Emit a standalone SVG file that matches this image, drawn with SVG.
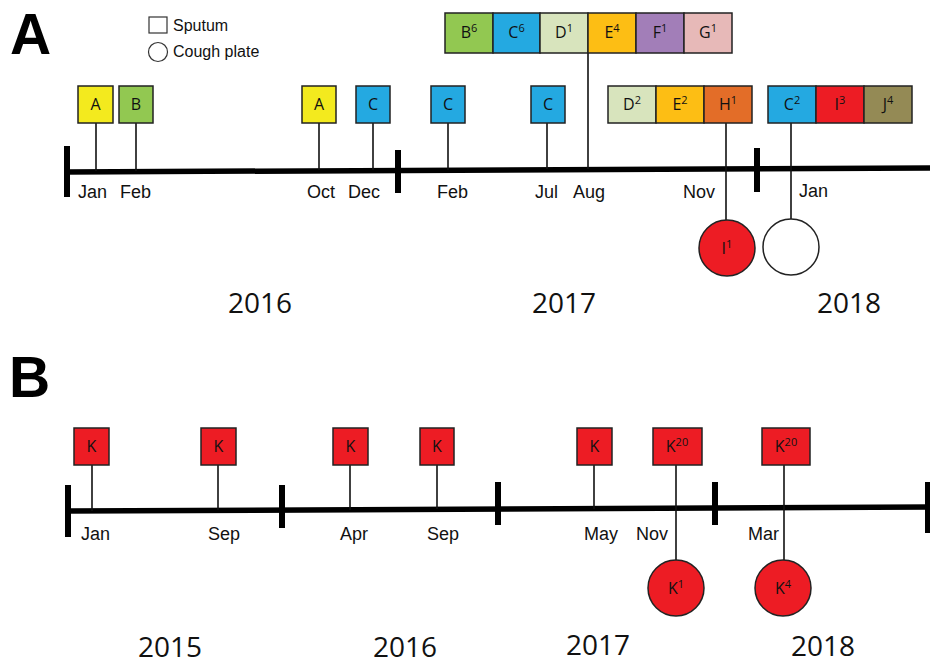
<svg xmlns="http://www.w3.org/2000/svg" width="930" height="665" viewBox="0 0 930 665">
<style>
.panel{font-family:"Liberation Sans",Arial,sans-serif;font-weight:bold;font-size:57px;fill:#000}
.leg{font-family:"Liberation Sans",Arial,sans-serif;font-size:16px;fill:#111}
.mon{font-family:"Liberation Sans",Arial,sans-serif;font-size:18px;fill:#111}
.yr{font-family:"Open Sans","Liberation Sans",sans-serif;font-size:28px;fill:#111}
.bx{stroke:#222;stroke-width:1.5}
.bt{font-family:"Open Sans","Liberation Sans",sans-serif;font-size:16px;fill:#111;text-anchor:middle}
.sup{font-size:11px}
.stem{stroke:#111;stroke-width:1.6;fill:none}
.axis{stroke:#000;stroke-width:5.5;fill:none}
.tick{stroke:#000;stroke-width:6;fill:none}
.cA{fill:#F3EA1E}.cB{fill:#92C851}.cC{fill:#24A9E1}.cD{fill:#D8E4BD}.cE{fill:#FDBE14}
.cF{fill:#A27EB8}.cG{fill:#E7B9B8}.cH{fill:#E36D28}.cI{fill:#ED1C24}.cJ{fill:#948A55}.cW{fill:#fff}
</style>

<!-- Panel labels and legend -->
<text class="panel" x="10" y="54">A</text>
<text class="panel" x="9" y="397">B</text>
<g id="legend">
  <rect x="149" y="17" width="18" height="16" fill="#fff" stroke="#333" stroke-width="1.2"/>
  <text class="leg" x="173" y="31">Sputum</text>
  <circle cx="158" cy="52" r="9.5" fill="#fff" stroke="#333" stroke-width="1.2"/>
  <text class="leg" x="173" y="57">Cough plate</text>
</g>

<!-- Axes -->
<g id="axisA">
  <line class="axis" x1="67" y1="172" x2="930" y2="168"/>
  <line class="tick" x1="67" y1="146" x2="67" y2="197"/>
  <line class="tick" x1="398" y1="150" x2="398" y2="193"/>
  <line class="tick" x1="757" y1="148" x2="757" y2="192"/>
</g>
<g id="axisB">
  <line class="axis" x1="68" y1="511" x2="930" y2="507"/>
  <line class="tick" x1="68" y1="485" x2="68" y2="537"/>
  <line class="tick" x1="282" y1="485" x2="282" y2="528"/>
  <line class="tick" x1="498" y1="482" x2="498" y2="525"/>
  <line class="tick" x1="715" y1="482" x2="715" y2="525"/>
  <line class="tick" x1="928" y1="482" x2="928" y2="533"/>
</g>

<!-- Connectors -->
<g id="connectors">
  <line class="stem" x1="96" y1="123" x2="96" y2="171"/>
  <line class="stem" x1="136" y1="123" x2="136" y2="171"/>
  <line class="stem" x1="319" y1="123" x2="319" y2="170"/>
  <line class="stem" x1="373" y1="123" x2="373" y2="170"/>
  <line class="stem" x1="448" y1="123" x2="448" y2="170"/>
  <line class="stem" x1="547" y1="123" x2="547" y2="169"/>
  <line class="stem" x1="588" y1="53" x2="588" y2="169"/>
  <line class="stem" x1="726" y1="123" x2="726" y2="220"/>
  <line class="stem" x1="791" y1="123" x2="791" y2="219"/>
  <line class="stem" x1="92" y1="465" x2="92" y2="511"/>
  <line class="stem" x1="218" y1="465" x2="218" y2="510"/>
  <line class="stem" x1="350" y1="465" x2="350" y2="510"/>
  <line class="stem" x1="437" y1="465" x2="437" y2="509"/>
  <line class="stem" x1="594" y1="465" x2="594" y2="509"/>
  <line class="stem" x1="676" y1="465" x2="676" y2="560"/>
  <line class="stem" x1="784" y1="465" x2="784" y2="560"/>
</g>

<!-- Panel A nodes -->
<g id="a-jan"><rect class="bx cA" x="78" y="86" width="35" height="37"/><text class="bt" x="95.5" y="110">A</text></g>
<g id="a-feb"><rect class="bx cB" x="119" y="86" width="34" height="37"/><text class="bt" x="136" y="110">B</text></g>
<g id="a-oct"><rect class="bx cA" x="302" y="86" width="34" height="37"/><text class="bt" x="319" y="110">A</text></g>
<g id="a-dec"><rect class="bx cC" x="356" y="86" width="34" height="37"/><text class="bt" x="373" y="110">C</text></g>
<g id="a-feb17"><rect class="bx cC" x="431" y="86" width="34" height="37"/><text class="bt" x="448" y="110">C</text></g>
<g id="a-jul17"><rect class="bx cC" x="531" y="86" width="34" height="37"/><text class="bt" x="548" y="110">C</text></g>
<g id="a-aug17">
  <rect class="bx cB" x="445" y="13" width="48" height="40"/><text class="bt" x="469" y="38">B<tspan class="sup" dy="-6">6</tspan></text>
  <rect class="bx cC" x="493" y="13" width="47" height="40"/><text class="bt" x="516.5" y="38">C<tspan class="sup" dy="-6">6</tspan></text>
  <rect class="bx cD" x="540" y="13" width="48" height="40"/><text class="bt" x="564" y="38">D<tspan class="sup" dy="-6">1</tspan></text>
  <rect class="bx cE" x="588" y="13" width="48" height="40"/><text class="bt" x="612" y="38">E<tspan class="sup" dy="-6">4</tspan></text>
  <rect class="bx cF" x="636" y="13" width="48" height="40"/><text class="bt" x="660" y="38">F<tspan class="sup" dy="-6">1</tspan></text>
  <rect class="bx cG" x="684" y="13" width="48" height="40"/><text class="bt" x="708" y="38">G<tspan class="sup" dy="-6">1</tspan></text>
</g>
<g id="a-nov17">
  <rect class="bx cD" x="608" y="86" width="48" height="37"/><text class="bt" x="632" y="110">D<tspan class="sup" dy="-6">2</tspan></text>
  <rect class="bx cE" x="656" y="86" width="48" height="37"/><text class="bt" x="680" y="110">E<tspan class="sup" dy="-6">2</tspan></text>
  <rect class="bx cH" x="704" y="86" width="48" height="37"/><text class="bt" x="728" y="110">H<tspan class="sup" dy="-6">1</tspan></text>
</g>
<g id="a-jan18">
  <rect class="bx cC" x="768" y="86" width="48" height="37"/><text class="bt" x="792" y="110">C<tspan class="sup" dy="-6">2</tspan></text>
  <rect class="bx cI" x="816" y="86" width="48" height="37"/><text class="bt" x="840" y="110">I<tspan class="sup" dy="-6">3</tspan></text>
  <rect class="bx cJ" x="864" y="86" width="48" height="37"/><text class="bt" x="888" y="110">J<tspan class="sup" dy="-6">4</tspan></text>
</g>
<g id="a-cough-nov17"><circle class="bx cI" cx="727" cy="248" r="28"/><text class="bt" x="727" y="254">I<tspan class="sup" dy="-6">1</tspan></text></g>
<g id="a-cough-jan18"><circle class="bx cW" cx="791" cy="247" r="28"/></g>

<!-- Panel A labels -->
<g id="a-months">
  <text class="mon" x="78" y="198">Jan</text>
  <text class="mon" x="120" y="198">Feb</text>
  <text class="mon" x="307" y="198">Oct</text>
  <text class="mon" x="348" y="198">Dec</text>
  <text class="mon" x="437" y="198">Feb</text>
  <text class="mon" x="535" y="198">Jul</text>
  <text class="mon" x="573" y="198">Aug</text>
  <text class="mon" x="683" y="198">Nov</text>
  <text class="mon" x="799" y="197">Jan</text>
</g>
<g id="a-years">
  <text class="yr" x="228" y="313">2016</text>
  <text class="yr" x="532" y="313">2017</text>
  <text class="yr" x="817" y="313">2018</text>
</g>

<!-- Panel B nodes -->
<g id="b-jan15"><rect class="bx cI" x="74" y="428" width="35" height="37"/><text class="bt" x="91.5" y="452">K</text></g>
<g id="b-sep15"><rect class="bx cI" x="201" y="428" width="35" height="37"/><text class="bt" x="218.5" y="452">K</text></g>
<g id="b-apr16"><rect class="bx cI" x="333" y="428" width="35" height="37"/><text class="bt" x="350.5" y="452">K</text></g>
<g id="b-sep16"><rect class="bx cI" x="420" y="428" width="34" height="37"/><text class="bt" x="437" y="452">K</text></g>
<g id="b-may17"><rect class="bx cI" x="577" y="428" width="35" height="37"/><text class="bt" x="594.5" y="452">K</text></g>
<g id="b-nov17"><rect class="bx cI" x="653" y="428" width="49" height="37"/><text class="bt" x="677" y="452">K<tspan class="sup" dy="-6">20</tspan></text></g>
<g id="b-mar18"><rect class="bx cI" x="762" y="428" width="48" height="37"/><text class="bt" x="786" y="452">K<tspan class="sup" dy="-6">20</tspan></text></g>
<g id="b-cough-nov17"><circle class="bx cI" cx="676" cy="588" r="28"/><text class="bt" x="676" y="594">K<tspan class="sup" dy="-6">1</tspan></text></g>
<g id="b-cough-mar18"><circle class="bx cI" cx="783" cy="588" r="28"/><text class="bt" x="783" y="594">K<tspan class="sup" dy="-6">4</tspan></text></g>

<!-- Panel B labels -->
<g id="b-months">
  <text class="mon" x="81" y="540">Jan</text>
  <text class="mon" x="208" y="540">Sep</text>
  <text class="mon" x="340" y="540">Apr</text>
  <text class="mon" x="427" y="540">Sep</text>
  <text class="mon" x="584" y="540">May</text>
  <text class="mon" x="636" y="540">Nov</text>
  <text class="mon" x="748" y="540">Mar</text>
</g>
<g id="b-years">
  <text class="yr" x="138" y="657">2015</text>
  <text class="yr" x="373" y="657">2016</text>
  <text class="yr" x="566" y="655">2017</text>
  <text class="yr" x="791" y="656">2018</text>
</g>
</svg>
